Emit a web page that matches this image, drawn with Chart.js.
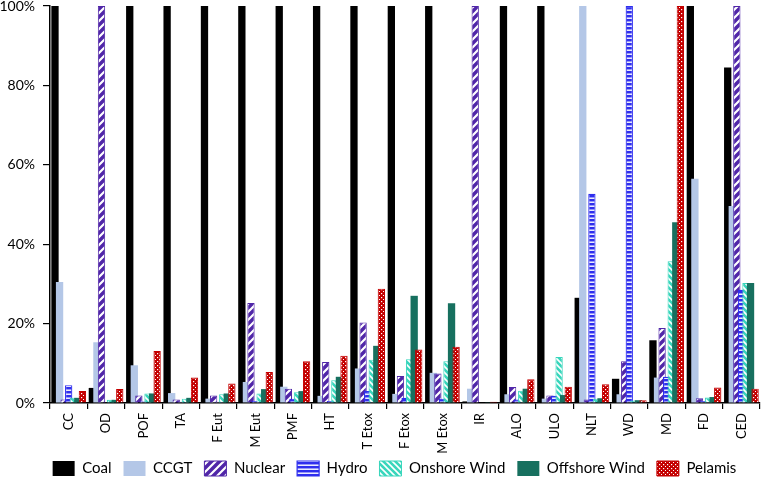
<!DOCTYPE html>
<html><head><meta charset="utf-8">
<script src="https://cdn.jsdelivr.net/npm/chart.js@4.4.1/dist/chart.umd.min.js"></script>
<style>html,body{margin:0;padding:0;background:#fff}#wrap{width:761px;height:487px;position:relative}</style>
</head><body><div id="wrap"><canvas id="c"></canvas></div>
<script>
const categories = ['CC','OD','POF','TA','F Eut','M Eut','PMF','HT','T Etox','F Etox','M Etox','IR','ALO','ULO','NLT','WD','MD','FD','CED'];
const seriesNames = ['Coal','CCGT','Nuclear','Hydro','Onshore Wind','Offshore Wind','Pelamis'];
const coal     = [100, 3.8, 100, 100, 100, 100, 100, 100, 100, 100, 100, 0.4, 100, 100, 26.5, 6.1, 15.8, 100, 84.5];
const ccgt     = [30.5, 15.3, 9.5, 2.5, 1.1, 5.3, 4.1, 1.8, 8.7, 2.3, 7.6, 3.6, 2.2, 1.1, 100, 2.2, 6.4, 56.5, 49.6];
const nuclear  = [0.9, 100, 1.9, 0.9, 1.9, 25.2, 3.6, 10.3, 20.3, 6.8, 7.4, 100, 4.0, 1.9, 0.9, 10.5, 18.9, 1.2, 100];
const hydro    = [4.5, 0.2, 0.4, 0.3, 0.3, 0.5, 1.1, 0.5, 3.0, 1.3, 1.1, 0.1, 0.9, 1.8, 52.7, 100, 6.6, 0.5, 28.5];
const onshore  = [1.3, 0.8, 2.4, 1.1, 2.2, 2.4, 2.7, 5.7, 10.9, 11.0, 10.5, 0.1, 3.1, 11.6, 1.1, 0.6, 35.7, 1.4, 30.2];
const offshore = [1.3, 0.8, 2.4, 1.3, 2.4, 3.5, 3.0, 6.6, 14.4, 27.0, 25.1, 0.1, 3.6, 2.0, 1.2, 0.7, 45.5, 1.5, 30.2];
const pelamis  = [3.0, 3.5, 13.1, 6.4, 4.9, 7.8, 10.5, 11.9, 28.8, 13.5, 14.2, 0.3, 6.0, 4.1, 4.7, 0.7, 100, 3.9, 3.6];
const yTicks = [0, 20, 40, 60, 80, 100];

const FONT = 'Lato, "Open Sans", sans-serif';

function makePattern(base, w, h, drawFn) {
  const c = document.createElement('canvas');
  c.width = w; c.height = h;
  const x = c.getContext('2d');
  x.fillStyle = base; x.fillRect(0, 0, w, h);
  drawFn(x, w, h);
  return x.createPattern(c, 'repeat');
}
const cNuc = '#5026A8', cHyd = '#2E2EEE', cOn = '#38D6BC', cOff = '#17705F', cPel = '#C40000';
const patNuc = makePattern(cNuc, 8, 8, (x, w, h) => {
  x.strokeStyle = '#fff'; x.lineWidth = 2.2; x.beginPath();
  x.moveTo(-1, h + 1); x.lineTo(w + 1, -1);
  x.moveTo(-2, 2); x.lineTo(2, -2);
  x.moveTo(w - 2, h + 2); x.lineTo(w + 2, h - 2);
  x.stroke();
});
const patHyd = makePattern(cHyd, 4, 4, (x, w, h) => {
  x.fillStyle = '#fff'; x.fillRect(0, 1.5, w, 1.4);
});
const patOn = makePattern(cOn, 6, 6, (x, w, h) => {
  x.strokeStyle = '#fff'; x.lineWidth = 1.6; x.beginPath();
  x.moveTo(-1, -1); x.lineTo(w + 1, h + 1);
  x.moveTo(w - 2, -2); x.lineTo(w + 2, 2);
  x.moveTo(-2, h - 2); x.lineTo(2, h + 2);
  x.stroke();
});
const patPel = makePattern(cPel, 4, 4, (x) => {
  x.fillStyle = '#fff'; x.fillRect(1, 1, 1.2, 1.2); x.fillRect(3, 3, 1.2, 1.2);
});

const values = [coal, ccgt, nuclear, hydro, onshore, offshore, pelamis];
const fills = ['#000000', '#B4C7E7', patNuc, patHyd, patOn, cOff, patPel];
const borders = ['#000000', '#B4C7E7', cNuc, cHyd, cOn, cOff, cPel];
const bw = [0, 0, 1, 1.2, 1, 0, 1];

const datasets = seriesNames.map((n, i) => ({
  label: n, data: values[i], backgroundColor: fills[i], borderColor: borders[i], borderWidth: bw[i],
  categoryPercentage: 0.855, barPercentage: 1.6
}));

// Draw later series on top (as in the original) and nudge the legend row
const drawOrderPlugin = {
  id: 'drawOrder',
  afterLayout(chart) {
    const lg = chart.legend;
    if (lg && !lg._shifted) {
      const d = lg.draw.bind(lg);
      lg.draw = function (area) { const c = this.ctx; c.save(); c.translate(14, -1); d(area); c.restore(); };
      lg._shifted = true;
    }
  },
  beforeDatasetsDraw(chart) {
    const ctx = chart.ctx, a = chart.chartArea;
    ctx.save();
    ctx.beginPath(); ctx.rect(a.left, a.top - 2, a.right - a.left, a.bottom - a.top + 2); ctx.clip();
    chart.getSortedVisibleDatasetMetas().forEach(m => m.controller.draw());
    ctx.restore();
    return false;
  }
};

new Chart(document.getElementById('c'), {
  type: 'bar',
  data: { labels: categories, datasets },
  plugins: [drawOrderPlugin],
  options: {
    responsive: true, maintainAspectRatio: false, animation: false,
    layout: { padding: { left: 0, right: 0, top: 0, bottom: 0 } },
    plugins: {
      tooltip: { enabled: false },
      legend: {
        position: 'bottom',
        labels: { boxWidth: 22, boxHeight: 15, padding: 12, color: '#000', font: { family: FONT, size: 15 } }
      }
    },
    scales: {
      x: {
        grid: { display: true, drawOnChartArea: false, drawTicks: true, tickLength: 6, color: '#000', lineWidth: 1.2, offset: true },
        border: { display: true, color: '#000', width: 1.5 },
        ticks: { minRotation: 90, maxRotation: 90, autoSkip: false, padding: 4, color: '#000', font: { family: FONT, size: 13 } },
        afterFit(s) { s.height = 47; s._computeLabelArea = () => undefined; }
      },
      y: {
        min: 0, max: 100,
        afterBuildTicks(s) { s.ticks = yTicks.map(v => ({ value: v })); },
        ticks: { callback: v => v + '%', padding: 8, color: '#000', font: { family: FONT, size: 14 } },
        grid: { display: true, drawOnChartArea: false, drawTicks: true, tickLength: 7, color: '#000', lineWidth: 1.2 },
        border: { display: true, color: '#000', width: 1.5 },
        afterFit(s) { s.width = 50; s.paddingTop = 6; }
      }
    }
  }
});
</script></body></html>
